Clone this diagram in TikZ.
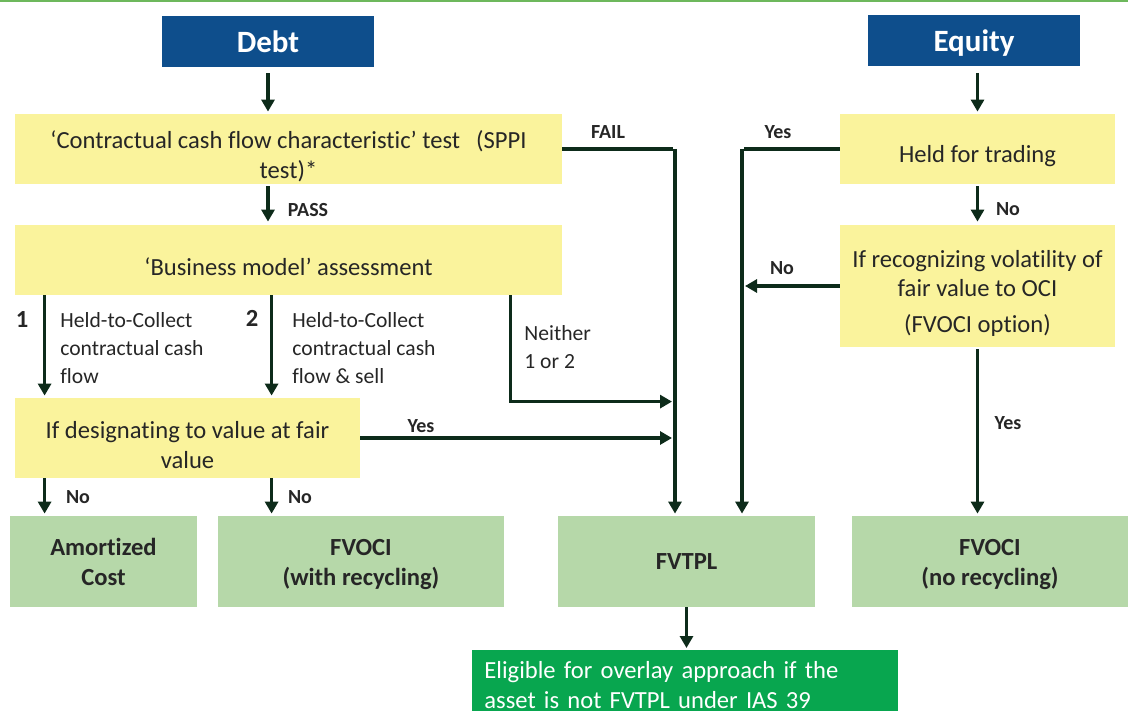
\documentclass[tikz,border=0pt]{standalone}
\usepackage{fontspec}
\setmainfont{Carlito}[Ligatures=NoCommon]
\usetikzlibrary{arrows.meta}

\definecolor{headblue}{HTML}{0E4E8C}
\definecolor{testyellow}{HTML}{FAF39C}
\definecolor{resultgreen}{HTML}{B6D8A9}
\definecolor{overlaygreen}{HTML}{08A64F}
\definecolor{flowline}{HTML}{0D2B1A}
\definecolor{rulegreen}{HTML}{6DB85C}
\definecolor{boxtext}{HTML}{262626}

% taller first line, pushes the text a bit lower in the box
\newcommand{\lift}[1][16pt]{\rule{0pt}{#1}}

\begin{document}
\begin{tikzpicture}[
    x=0.5pt,
    y=-0.5pt,
    >={Triangle[length=6pt,width=6.5pt]},
    header/.style={
        fill=headblue,
        text=white,
        minimum width=106pt,
        minimum height=25.5pt,
        text depth=0pt,
        font=\fontsize{15.5}{18}\selectfont\bfseries
    },
    check/.style={
        fill=testyellow,
        text=boxtext,
        align=center,
        inner sep=0pt,
        font=\fontsize{12.3}{15}\selectfont
    },
    outcome/.style={
        fill=resultgreen,
        text=boxtext,
        align=center,
        inner sep=0pt,
        minimum height=45.5pt,
        font=\fontsize{12.3}{15}\selectfont\bfseries
    },
    tag/.style={
        text=boxtext,
        inner sep=0pt,
        font=\fontsize{10}{12}\selectfont\bfseries
    },
    branch/.style={
        text=boxtext,
        align=left,
        inner sep=0pt,
        font=\fontsize{10.8}{14}\selectfont
    },
    link/.style={
        ->,
        draw=flowline,
        line width=1.6pt,
        shorten >=1pt
    }
]
    \useasboundingbox (0,0) rectangle (1128,711);
    \clip (0,0) rectangle (1128,711);
    \draw[rulegreen, line width=1.2pt] (0,1) -- (1128,1);

    \node[header] (debt) at (268,41.5) {Debt};
    \node[header] (equity) at (974,41) {Equity};

    \node[check, minimum width=273.5pt, minimum height=35pt] (sppi) at (288.5,149)
        {\lift ‘Contractual cash flow characteristic’ test\hspace{8pt}(SPPI\\test)*};
    \node[check, minimum width=273.5pt, minimum height=35pt] (model) at (288.5,260)
        {\lift ‘Business model’ assessment};
    \node[check, minimum width=172.5pt, minimum height=40pt] (designate) at (187.5,438)
        {\lift If designating to value at fair\\value};

    \node[check, minimum width=137.5pt, minimum height=35pt] (trading) at (977.5,149)
        {\lift Held for trading};
    \node[check, minimum width=137.5pt, minimum height=61pt, font=\fontsize{12.3}{14.5}\selectfont] (ocioption) at (977.5,286)
        {\lift If recognizing volatility of\\fair value to OCI\\[3.5pt](FVOCI option)};

    \node[outcome, minimum width=93.5pt] (amortized) at (103.5,561.5)
        {Amortized\\Cost};
    \node[outcome, minimum width=143pt] (fvocirec) at (361,561.5)
        {\lift[11pt]FVOCI\\(with recycling)};
    \node[outcome, minimum width=128.5pt] (fvtpl) at (686.5,561.5)
        {FVTPL};
    \node[outcome, minimum width=138pt] (fvocino) at (990,561.5)
        {\lift[11pt]FVOCI\\(no recycling)};

    \node[
        anchor=north west,
        fill=overlaygreen,
        text=white,
        align=left,
        text width=201pt,
        inner xsep=6pt,
        inner ysep=5.5pt,
        font=\fontsize{12.3}{15}\selectfont
    ] (overlay) at (472,650)
        {Eligible for overlay approach if the\\asset is not FVTPL under IAS 39};

    \coordinate (failturn) at (675,149);
    \coordinate (yesturn) at (742,149);

    \draw[link, shorten <=3pt] (debt.south) -- (debt.south |- sppi.north);
    \draw[link, shorten <=1pt, shorten >=1.5pt] (debt.south |- sppi.south) -- (debt.south |- model.north);
    \draw[link] ([xshift=15pt]model.south west) -- ([xshift=15pt]model.south west |- designate.north);
    \draw[link] ([xshift=128.5pt]model.south west) -- ([xshift=128.5pt]model.south west |- designate.north);
    \draw[link] ([xshift=15pt]designate.south west) -- ([xshift=15pt]designate.south west |- amortized.north);
    \draw[link] ([xshift=128.5pt]designate.south west) -- ([xshift=128.5pt]designate.south west |- fvocirec.north);

    \draw[link, -] (sppi.east) -- (failturn);
    \draw[link] (failturn) -- (failturn |- fvtpl.north);
    \draw[link, shorten >=1.5pt] ([xshift=-26pt]model.south east) |- ([yshift=-2pt]designate.north -| failturn);
    \draw[link, shorten >=1.5pt] (designate.east) -- (designate.east -| failturn);

    \draw[link, -] (trading.west) -- (yesturn);
    \draw[link] (yesturn) -- (yesturn |- fvtpl.north);
    \draw[link, shorten >=1.5pt] (ocioption.west) -- (ocioption.west -| yesturn);

    \draw[link, shorten <=3pt] (trading.north |- equity.south) -- (trading.north);
    \draw[link, shorten <=1pt, shorten >=1.5pt] (trading.south) -- (ocioption.north);
    \draw[link, shorten <=1pt] (ocioption.south) -- (ocioption.south |- fvocino.north);

    \draw[link] (fvtpl.south) -- (fvtpl.south |- overlay.north);

    \node[tag] (pass) at (308,210) {PASS};
    \node[tag] (fail) at (608,132) {FAIL};
    \node[tag] (tradeyes) at (778,132) {Yes};
    \node[tag] (tradeno) at (1008,209) {No};
    \node[tag] (optionno) at (782,268) {No};
    \node[tag] (optionyes) at (1008,423) {Yes};
    \node[tag] (designyes) at (421,426) {Yes};
    \node[tag] (amortno) at (78,497) {No};
    \node[tag] (recycleno) at (300,497) {No};

    \node[tag, font=\fontsize{12.3}{15}\selectfont\bfseries] (one) at (22,320) {1};
    \node[tag, font=\fontsize{12.3}{15}\selectfont\bfseries] (two) at (252,318) {2};
    \node[branch, anchor=west] (collect) at (60,348)
        {Held-to-Collect\\contractual cash\\flow};
    \node[branch, anchor=west] (collectsell) at (292,348)
        {Held-to-Collect\\contractual cash\\flow \& sell};
    \node[branch, anchor=west] (neither) at (524,347.5)
        {Neither\\1 or 2};
\end{tikzpicture}
\end{document}
